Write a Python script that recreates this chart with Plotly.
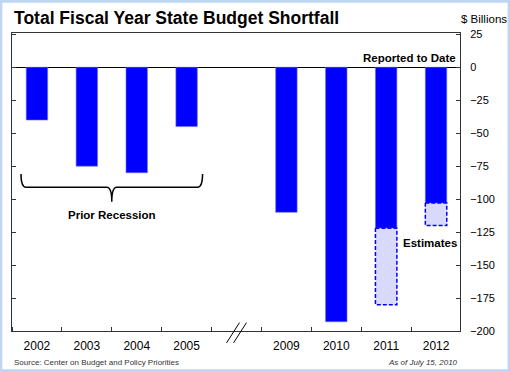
import plotly.graph_objects as go

# ---- data ----
years = ["2002", "2003", "2004", "2005", "2009", "2010", "2011", "2012"]
slots = [0, 1, 2, 3, 5, 6, 7, 8]          # slot 4 is the axis break
reported = [-40, -75, -80, -45, -110, -193, -122, -103]
est_years = ["2011", "2012"]
est_total = [-180, -120]
y_ticks = [25, 0, -25, -50, -75, -100, -125, -150, -175, -200]

FONT = "Liberation Sans, Arial, sans-serif"
BLUE = "#0000FF"
EST_FILL = "#D9D9FB"
BAR_W = 0.43

est_slots = [slots[years.index(y)] for y in est_years]
est_rep = [reported[years.index(y)] for y in est_years]
est_delta = [t - r for t, r in zip(est_total, est_rep)]

fig = go.Figure()
fig.add_trace(go.Bar(x=slots, y=reported, width=BAR_W,
                     marker=dict(color=BLUE, line=dict(width=0.6, color="#6f6ff7")),
                     showlegend=False, hoverinfo="skip"))
fig.add_trace(go.Bar(x=est_slots, y=est_delta, base=est_rep, width=BAR_W,
                     marker=dict(color=EST_FILL, line=dict(width=0)),
                     showlegend=False, hoverinfo="skip"))
# dashed outlines around estimate boxes
for xc, r, t in zip(est_slots, est_rep, est_total):
    xl, xr = xc - BAR_W / 2, xc + BAR_W / 2
    fig.add_trace(go.Scatter(x=[xl, xr, xr, xl, xl], y=[r, r, t, t, r], mode="lines",
                             line=dict(color=BLUE, width=1.5, dash="4px,2px"),
                             showlegend=False, hoverinfo="skip"))

fig.update_layout(
    width=510, height=372,
    margin=dict(l=12, r=50, t=33, b=41),
    paper_bgcolor="white", plot_bgcolor="white",
    font=dict(family=FONT, color="black"),
    barmode="overlay",
    xaxis=dict(range=[-0.5, 8.48], tickvals=slots, ticktext=years, ticks="",
               showline=True, linecolor="#333", linewidth=1, mirror=True,
               showgrid=False, zeroline=False, tickfont=dict(size=12),
               ticklabelstandoff=4,
               minor=dict(tick0=0.5, dtick=1, ticks="inside", ticklen=4,
                          tickcolor="#333", showgrid=False)),
    yaxis=dict(range=[-200, 26], tickvals=y_ticks, side="right", ticks="inside",
               ticklen=4, tickcolor="#333", showline=True, linecolor="#333",
               linewidth=1, mirror="ticks", showgrid=False, zeroline=True,
               zerolinecolor="black", zerolinewidth=1, tickfont=dict(size=11),
               ticklabelstandoff=7),
)

# axis break marks
for dx in (-0.07, 0.07):
    fig.add_shape(type="line", xref="x", yref="paper",
                  x0=4 + dx - 0.13, y0=-0.04, x1=4 + dx + 0.13, y1=0.028,
                  line=dict(color="black", width=1))

# curly brace for prior recession
bx0 = slots[0] - 0.32
bx1 = slots[3] + 0.32
bm = (bx0 + bx1) / 2
yt, yl, ytip = -81, -91, -102
path = (f"M {bx0} {yt} Q {bx0} {yl} {bx0+0.1} {yl} L {bm-0.1} {yl} "
        f"Q {bm} {yl} {bm} {ytip} Q {bm} {yl} {bm+0.1} {yl} "
        f"L {bx1-0.1} {yl} Q {bx1} {yl} {bx1} {yt}")
fig.add_shape(type="path", xref="x", yref="y", path=path,
              line=dict(color="black", width=1.5))

# figure border
fig.add_shape(type="rect", xref="paper", yref="paper",
              x0=-12/448 + 0.002, x1=498/448 - 0.002,
              y0=-41/298 + 0.004, y1=1 + 33/298 - 0.004,
              line=dict(color="#BFD6F2", width=3), layer="above")

ann = [
    dict(text="<b>Total Fiscal Year State Budget Shortfall</b>", xref="paper", yref="paper",
         x=0, y=1 + 15/298, xanchor="left", yanchor="middle", font=dict(size=17.5)),
    dict(text="$ Billions", xref="paper", yref="paper", x=1 + 24/448, y=1 + 14/298,
         xanchor="center", yanchor="middle", font=dict(size=11.5)),
    dict(text="<b>Reported to Date</b>", xref="paper", yref="y", x=0.996, y=7,
         xanchor="right", yanchor="middle", font=dict(size=11.5)),
    dict(text="<b>Estimates</b>", xref="x", yref="y", x=7.87, y=-133,
         xanchor="center", yanchor="middle", font=dict(size=11.5)),
    dict(text="<b>Prior Recession</b>", xref="x", yref="y", x=bm, y=-112,
         xanchor="center", yanchor="middle", font=dict(size=11.5)),
    dict(text="Source: Center on Budget and Policy Priorities", xref="paper", yref="paper",
         x=0, y=-31/298, xanchor="left", yanchor="middle",
         font=dict(size=8, color="#333")),
    dict(text="<i>As of July 15, 2010</i>", xref="paper", yref="paper",
         x=1, y=-31/298, xanchor="right", yanchor="middle",
         font=dict(size=8, color="#333")),
]
for a in ann:
    a["showarrow"] = False
    fig.add_annotation(**a)

fig.write_html("out.html", config={"displayModeBar": False},
               post_script="document.body.style.margin='0';document.body.style.padding='0';")
